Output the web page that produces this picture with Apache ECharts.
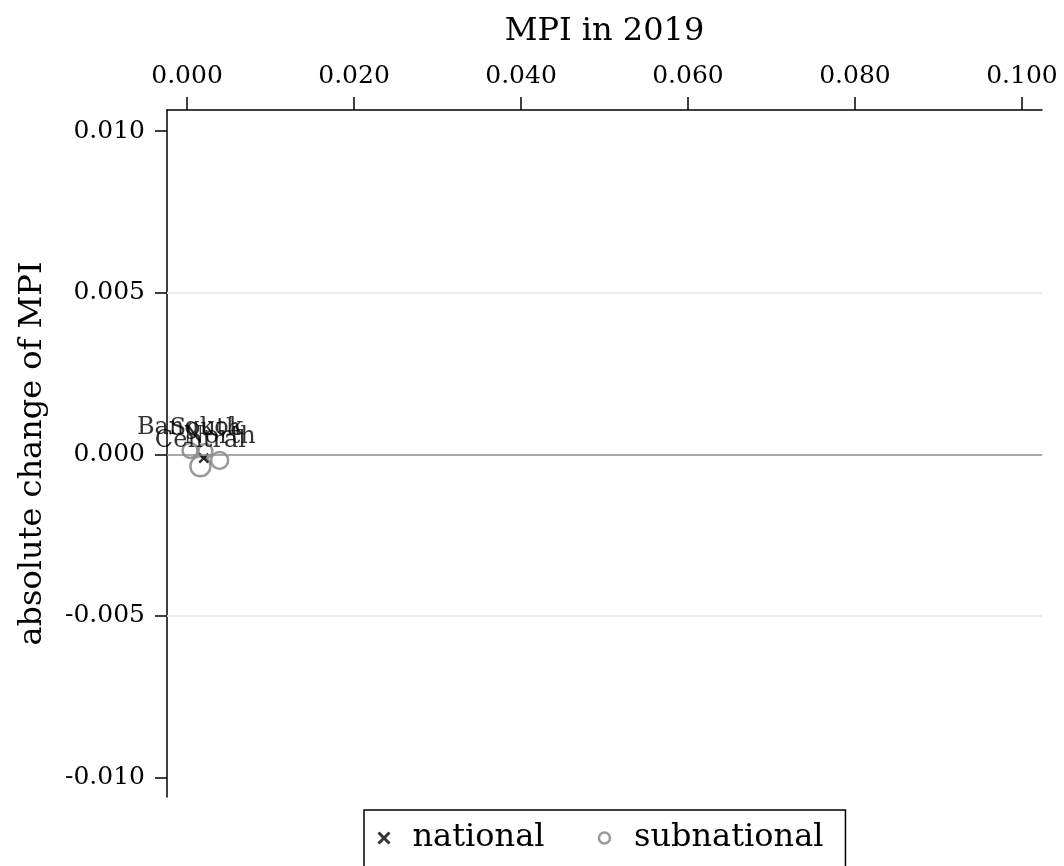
<!DOCTYPE html>
<html>
<head>
<meta charset="utf-8">
<script src="https://cdn.jsdelivr.net/npm/echarts@6/dist/echarts.min.js"></script>
<style>html,body{margin:0;padding:0;background:#fff;}#c{width:1064px;height:866px;}</style>
</head>
<body>
<div id="c"></div>
<script>
// Data
const regions = ["Bangkok", "South", "Central", "North"];
const mpi2019 = [0.00036, 0.0022, 0.0016, 0.0039];
const absChange = [0.00012, 0.0001, -0.00037, -0.00019];
const popWeight = [15, 14, 20, 17];
const nationalMpi = [0.0020];
const nationalChange = [-0.00012];
const xTicks = [0, 0.02, 0.04, 0.06, 0.08, 0.1];
const yTicks = [-0.01, -0.005, 0, 0.005, 0.01];
const yGrid = [-0.005, 0.005];

const FONT = "DejaVu Serif";
const crossPath = 'path://M0,0L10,10M10,0L0,10';
const X_MIN = -0.0024, X_MAX = 0.1024;

const chart = echarts.init(document.getElementById('c'), null, {renderer: 'canvas'});
const subData = regions.map((r, i) => ({name: r, value: [mpi2019[i], absChange[i]], symbolSize: popWeight[i]}));
const natData = nationalMpi.map((v, i) => [v, nationalChange[i]]);
const gridLines = yGrid.map(v => [{coord: [X_MIN, v]}, {coord: [X_MAX, v]}]);

chart.setOption({
  animation: false,
  backgroundColor: '#fff',
  grid: {left: 167, right: 22, top: 110, bottom: 69, containLabel: false},
  xAxis: {
    type: 'value', position: 'top', min: X_MIN, max: X_MAX,
    name: 'MPI in 2019', nameLocation: 'middle', nameGap: 62,
    nameTextStyle: {fontFamily: FONT, fontSize: 32, color: '#000'},
    axisLine: {show: true, onZero: false, lineStyle: {color: '#000', width: 1.5}},
    axisTick: {show: true, length: 13, customValues: xTicks, lineStyle: {color: '#000', width: 1.5}},
    axisLabel: {customValues: xTicks, margin: 21, fontFamily: FONT, fontSize: 25, color: '#000',
      formatter: v => v.toFixed(3)},
    splitLine: {show: false}
  },
  yAxis: {
    type: 'value', min: -0.0106, max: 0.01065,
    name: 'absolute change of MPI', nameLocation: 'middle', nameGap: 118, nameRotate: 90,
    nameTextStyle: {fontFamily: FONT, fontSize: 32, color: '#000'},
    axisLine: {show: true, onZero: false, lineStyle: {color: '#000', width: 1.5}},
    axisTick: {show: true, length: 12, customValues: yTicks, lineStyle: {color: '#000', width: 1.5}},
    axisLabel: {customValues: yTicks, margin: 22, fontFamily: FONT, fontSize: 25, color: '#000',
      formatter: v => v.toFixed(3)},
    splitLine: {show: false}
  },
  legend: {
    left: 364, top: 810, width: 482,
    padding: [12, 22, 40, 12],
    borderColor: '#000', borderWidth: 1.5,
    itemGap: 52, itemWidth: 11, itemHeight: 11,
    textStyle: {fontFamily: FONT, fontSize: 32, color: '#000', padding: [0, 0, 0, 18]},
    data: [
      {name: 'national', icon: crossPath, itemStyle: {color: 'none', borderColor: '#000', borderWidth: 3}},
      {name: 'subnational', icon: 'circle', itemStyle: {color: 'none', borderColor: '#808080', borderWidth: 2.5},
        textStyle: {padding: [0, 0, 0, 19]}}
    ]
  },
  series: [
    {
      name: 'guides', type: 'line', data: [], silent: true,
      markLine: {
        silent: true, symbol: 'none', label: {show: false}, animation: false,
        lineStyle: {color: '#ebebeb', width: 2, type: 'solid'},
        data: gridLines.concat([[{coord: [X_MIN, 0], lineStyle: {color: '#8c8c8c', width: 1.5, type: 'solid'}}, {coord: [X_MAX, 0]}]])
      }
    },
    {
      name: 'subnational', type: 'scatter', symbol: 'circle',
      data: subData,
      itemStyle: {color: 'none', borderColor: '#808080', borderWidth: 2.5},
      label: {show: true, position: 'top', distance: 1, formatter: p => p.name,
        fontFamily: FONT, fontSize: 24, color: '#000'},
      labelLayout: {hideOverlap: false},
      z: 3
    },
    {
      name: 'national', type: 'scatter', symbol: crossPath, symbolSize: 9,
      data: natData,
      itemStyle: {color: 'none', borderColor: '#000', borderWidth: 2.5},
      z: 4
    }
  ]
});
</script>
</body>
</html>
